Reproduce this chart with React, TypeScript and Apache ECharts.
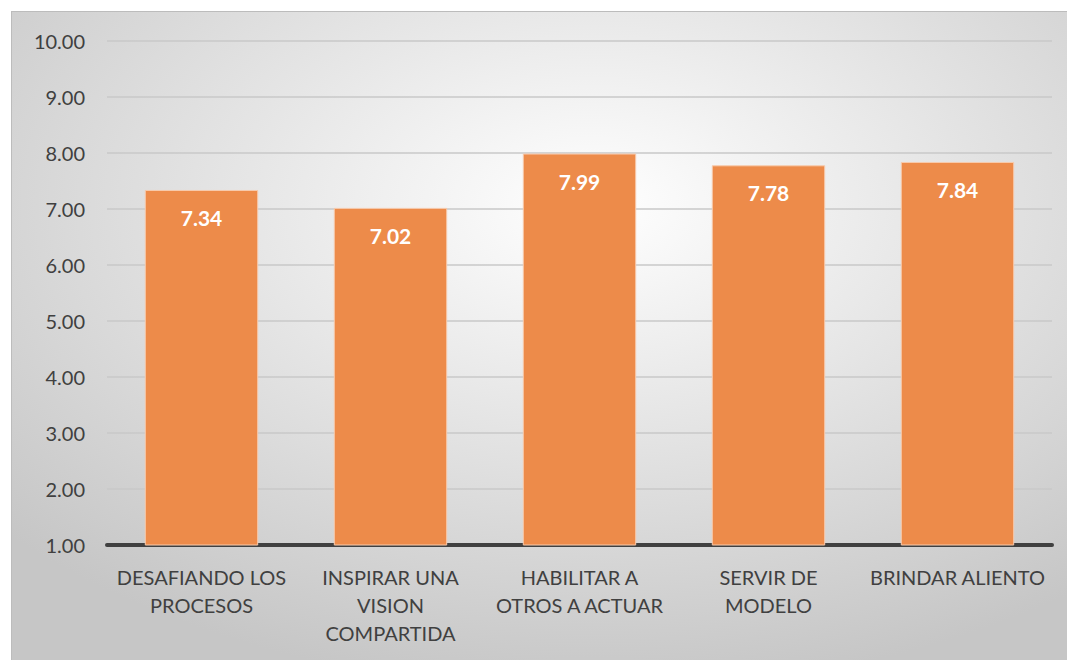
import React, { useEffect, useRef } from "react";
import * as echarts from "echarts";

const categories = [
  "DESAFIANDO LOS\nPROCESOS",
  "INSPIRAR UNA\nVISION\nCOMPARTIDA",
  "HABILITAR A\nOTROS A ACTUAR",
  "SERVIR DE\nMODELO",
  "BRINDAR ALIENTO",
];
const values = [7.34, 7.02, 7.99, 7.78, 7.84];
const yMin = 1;
const yMax = 10;
const yInterval = 1;

export default function App() {
  const ref = useRef<HTMLDivElement>(null);
  useEffect(() => {
    if (!ref.current) return;
    const chart = echarts.init(ref.current, undefined, { renderer: "svg" });
    const font = "Lato, 'Open Sans', sans-serif";
    chart.setOption({
      animation: false,
      backgroundColor: {
        type: "radial",
        x: 0.55,
        y: 0.3,
        r: 0.75,
        colorStops: [
          { offset: 0, color: "#ffffff" },
          { offset: 1, color: "#c6c6c6" },
        ],
      },
      grid: { left: 95, right: 15, top: 29, bottom: 115, containLabel: false },
      xAxis: {
        type: "category",
        data: categories,
        axisLine: { show: true, lineStyle: { color: "#404040", width: 4 } },
        axisTick: { show: false },
        axisLabel: {
          color: "#404040",
          fontSize: 20,
          fontFamily: font,
          lineHeight: 28,
          margin: 18,
          interval: 0,
        },
      },
      yAxis: {
        type: "value",
        min: yMin,
        max: yMax,
        interval: yInterval,
        axisLine: { show: false },
        axisTick: { show: false },
        axisLabel: {
          color: "#404040",
          fontSize: 20,
          fontFamily: font,
          margin: 22,
          formatter: (v: number) => v.toFixed(2),
        },
        splitLine: { lineStyle: { color: "#c8c8c8", width: 1.5 } },
      },
      series: [
        {
          type: "bar",
          data: values,
          barWidth: "60%",
          itemStyle: {
            color: "#ED8B4A",
            borderColor: "#F8CBAD",
            borderWidth: 1,
          },
          label: {
            show: true,
            position: "insideTop",
            distance: 17,
            color: "#ffffff",
            fontSize: 21,
            fontWeight: "bold",
            fontFamily: font,
            formatter: (p: any) => p.value.toFixed(2),
          },
        },
      ],
    });
    return () => chart.dispose();
  }, []);
  return (
    <div
      ref={ref}
      style={{
        position: "absolute",
        left: 11,
        top: 11,
        width: 1056,
        height: 649,
        boxSizing: "border-box",
        borderTop: "1px solid #bcbcbc",
        borderLeft: "1px solid #bcbcbc",
      }}
    />
  );
}
